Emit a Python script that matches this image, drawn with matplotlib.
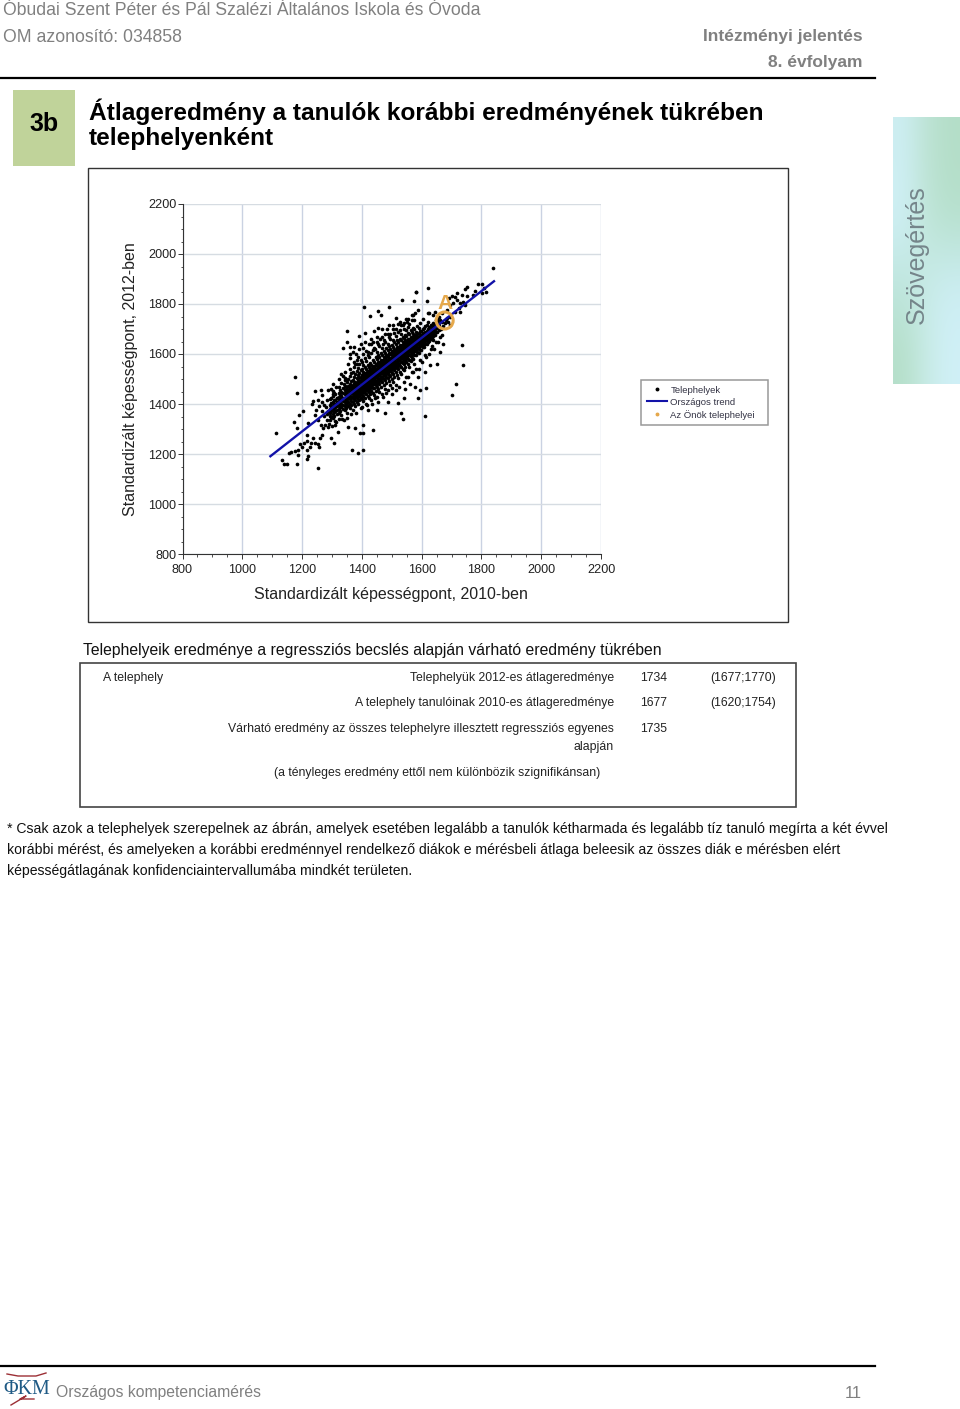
"""Atlageredmeny a tanulok korabbi eredmenyenek tukreben: report page with regression scatter."""

import matplotlib

matplotlib.use("Agg")
import matplotlib.pyplot as plt
import numpy as np
from matplotlib.colors import to_rgb
from matplotlib.lines import Line2D
from matplotlib.patches import Rectangle
from matplotlib.ticker import MultipleLocator

plt.rcParams["font.family"] = ["Liberation Sans", "DejaVu Sans"]

# axis
ticks = [800, 1000, 1200, 1400, 1600, 1800, 2000, 2200]
x_label = "Standardizált képességpont, 2010-ben"
y_label = "Standardizált képességpont, 2012-ben"

# national trend
trend_x = [1094, 1842]
trend_y = [1191, 1891]

# the school's site
site_x = [1677]
site_y = [1734]

# sites at the low end
lower_tail = [
    (1176, 1509), (1184, 1445), (1114, 1283), (1133, 1176), (1141, 1159), (1151, 1159), (1184, 1159),
    (1254, 1145), (1215, 1179), (1221, 1192), (1156, 1203), (1163, 1209), (1176, 1212), (1187, 1216),
    (1201, 1227), (1193, 1240), (1208, 1245), (1187, 1196), (1215, 1216), (1227, 1227), (1229, 1243),
    (1257, 1227), (1243, 1243), (1254, 1240), (1260, 1263), (1268, 1276), (1238, 1265), (1218, 1276),
    (1215, 1253), (1296, 1265), (1308, 1243), (1321, 1289), (1288, 1309), (1271, 1303), (1277, 1316),
    (1254, 1336), (1243, 1356), (1221, 1323), (1184, 1303), (1173, 1329), (1191, 1355), (1202, 1373),
    (1243, 1453), (1263, 1456), (1238, 1413), (1254, 1416), (1266, 1436), (1288, 1456), (1282, 1416),
    (1305, 1440), (1316, 1423), (1232, 1400), (1366, 1216), (1388, 1203), (1405, 1216), (1394, 1283),
    (1403, 1283), (1438, 1296), (1405, 1316), (1377, 1303), (1355, 1309), (1340, 1336), (1272, 1352),
    (1284, 1335), (1266, 1372), (1279, 1388), (1290, 1322), (1300, 1312), (1312, 1328), (1262, 1318),
    (1275, 1398), (1268, 1408), (1258, 1392), (1247, 1378), (1296, 1350), (1287, 1372), (1282, 1362),
]

# sites away from the band
outliers = [
    (1581, 1847), (1533, 1816), (1575, 1813), (1619, 1813), (1408, 1787), (1492, 1787), (1453, 1772),
    (1464, 1756), (1427, 1753), (1349, 1693), (1351, 1649), (1338, 1623), (1360, 1629), (1375, 1629),
    (1392, 1672), (1411, 1683), (1442, 1693), (1455, 1703), (1466, 1699), (1491, 1716), (1513, 1743),
    (1528, 1729), (1548, 1739), (1572, 1756), (1589, 1776), (1622, 1763), (1611, 1352), (1530, 1363),
    (1537, 1339), (1477, 1365), (1450, 1376), (1589, 1423), (1595, 1456), (1613, 1463), (1578, 1469),
    (1589, 1507), (1628, 1556), (1541, 1423), (1522, 1403), (1489, 1409), (1444, 1423), (1416, 1396),
    (1344, 1496), (1338, 1512), (1700, 1437), (1714, 1481), (1737, 1557), (1734, 1635), (1622, 1863),
    (1580, 1847), (1673, 1640), (1639, 1656), (1634, 1632), (1667, 1676), (1650, 1560), (1660, 1610),
]

# sites at the high end
upper_tail = [
    (1840, 1943), (1788, 1880), (1801, 1880), (1751, 1869), (1745, 1859), (1809, 1863), (1815, 1849),
    (1778, 1853), (1771, 1836), (1801, 1843), (1751, 1832), (1734, 1836), (1717, 1843), (1700, 1832),
    (1693, 1823), (1712, 1827), (1719, 1816), (1740, 1809), (1728, 1803), (1745, 1796), (1706, 1803),
    (1695, 1796), (1726, 1783), (1712, 1769), (1728, 1769), (1684, 1776), (1667, 1763), (1645, 1769),
    (1626, 1763), (1578, 1763), (1567, 1756), (1639, 1696), (1656, 1716), (1695, 1749), (1684, 1743),
    (1667, 1729), (1678, 1723), (1695, 1716), (1656, 1749), (1567, 1736), (1550, 1729), (1539, 1716),
    (1665, 1700), (1672, 1712), (1680, 1735), (1688, 1728), (1662, 1735), (1651, 1735),
]

# loose sites on both sides of the band
band_fringe = [
    (1345, 1530), (1355, 1560), (1362, 1585), (1370, 1610), (1380, 1600), (1385, 1560), (1392, 1620),
    (1398, 1640), (1405, 1625), (1412, 1650), (1420, 1610), (1425, 1640), (1430, 1660), (1438, 1650),
    (1445, 1620), (1452, 1670), (1460, 1660), (1470, 1640), (1478, 1680), (1485, 1700), (1495, 1680),
    (1505, 1715), (1515, 1700), (1520, 1720), (1540, 1725), (1555, 1740), (1360, 1600), (1375, 1570),
    (1340, 1480), (1325, 1500), (1315, 1470), (1305, 1480), (1298, 1460), (1330, 1520), (1400, 1390),
    (1420, 1375), (1435, 1400), (1455, 1410), (1470, 1430), (1480, 1445), (1500, 1440), (1515, 1455),
    (1525, 1470), (1540, 1490), (1555, 1510), (1570, 1530), (1580, 1540), (1600, 1570), (1615, 1590),
    (1625, 1600), (1640, 1620), (1655, 1650), (1660, 1670), (1380, 1365), (1365, 1360), (1350, 1345),
    (1335, 1340), (1325, 1340), (1310, 1315), (1590, 1540), (1560, 1480), (1545, 1460), (1500, 1465),
    (1610, 1530),
]

# dense band, per 2010 score
band_columns = [
    (1292, [1338, 1352, 1365, 1381, 1398, 1420]),
    (1303, [1345, 1361, 1378, 1394, 1410, 1433, 1452]),
    (1311, [1332, 1372, 1387, 1401, 1416, 1439]),
    (1322, [1366, 1381, 1395, 1412, 1427, 1445, 1468]),
    (1331, [1358, 1388, 1402, 1418, 1433, 1450, 1483]),
    (1342, [1375, 1392, 1410, 1425, 1439, 1456, 1472, 1505]),
    (1350, [1364, 1397, 1413, 1428, 1444, 1461, 1488]),
    (1361, [1385, 1402, 1419, 1433, 1448, 1463, 1479, 1514, 1540]),
    (1369, [1376, 1408, 1424, 1440, 1455, 1470, 1497, 1530]),
    (1378, [1391, 1415, 1430, 1446, 1460, 1475, 1490, 1520, 1562]),
    (1387, [1402, 1422, 1438, 1452, 1467, 1482, 1498, 1516, 1545, 1590]),
    (1396, [1385, 1425, 1441, 1458, 1473, 1488, 1503, 1535, 1578]),
    (1405, [1412, 1432, 1449, 1465, 1481, 1496, 1512, 1528, 1556, 1600]),
    (1414, [1400, 1440, 1456, 1472, 1489, 1504, 1520, 1540, 1572, 1612]),
    (1423, [1425, 1449, 1465, 1482, 1497, 1513, 1529, 1547, 1590]),
    (1432, [1415, 1452, 1470, 1488, 1505, 1521, 1536, 1558, 1605, 1640]),
    (1441, [1437, 1463, 1481, 1498, 1514, 1530, 1546, 1568, 1625]),
    (1450, [1428, 1470, 1488, 1507, 1523, 1538, 1555, 1580, 1610, 1650]),
    (1459, [1448, 1482, 1498, 1516, 1531, 1548, 1564, 1588, 1632]),
    (1468, [1440, 1487, 1506, 1523, 1540, 1556, 1573, 1598, 1625, 1668]),
    (1477, [1462, 1496, 1515, 1533, 1549, 1565, 1583, 1605, 1648]),
    (1486, [1455, 1505, 1524, 1541, 1557, 1574, 1592, 1615, 1640, 1680]),
    (1495, [1478, 1512, 1532, 1550, 1566, 1582, 1600, 1622, 1660]),
    (1504, [1490, 1522, 1541, 1558, 1574, 1591, 1608, 1630, 1655, 1700]),
    (1513, [1475, 1530, 1549, 1567, 1583, 1600, 1616, 1640, 1672]),
    (1522, [1505, 1540, 1558, 1576, 1591, 1608, 1625, 1648, 1690]),
    (1531, [1520, 1549, 1567, 1585, 1600, 1616, 1633, 1655, 1682, 1715]),
    (1540, [1535, 1560, 1578, 1593, 1608, 1625, 1642, 1664, 1702]),
    (1549, [1510, 1568, 1586, 1602, 1617, 1633, 1650, 1672, 1695]),
    (1558, [1548, 1578, 1595, 1611, 1625, 1641, 1658, 1680, 1722]),
    (1567, [1528, 1586, 1603, 1620, 1634, 1649, 1666, 1690]),
    (1576, [1560, 1596, 1612, 1628, 1642, 1657, 1674, 1700, 1735]),
    (1585, [1608, 1622, 1637, 1651, 1665, 1682, 1712]),
    (1594, [1578, 1618, 1632, 1646, 1660, 1674, 1692, 1725]),
    (1603, [1630, 1642, 1655, 1668, 1682, 1702, 1742]),
    (1612, [1598, 1640, 1652, 1664, 1677, 1690, 1714]),
    (1621, [1650, 1662, 1674, 1686, 1700, 1728]),
    (1630, [1620, 1662, 1674, 1686, 1698, 1715]),
    (1639, [1672, 1684, 1708, 1725, 1755]),
    (1648, [1650, 1690, 1704, 1716, 1738]),
    (1657, [1695, 1712, 1726, 1750]),
]

# more of the band, between those columns
band_between = [
    (1297, [1350, 1372, 1388, 1405, 1426]),
    (1307, [1352, 1369, 1384, 1400, 1418, 1444]),
    (1316, [1360, 1378, 1393, 1408, 1424]),
    (1326, [1372, 1388, 1404, 1419, 1436, 1458]),
    (1336, [1380, 1396, 1411, 1426, 1443, 1466]),
    (1346, [1385, 1402, 1418, 1433, 1449, 1467, 1495]),
    (1355, [1392, 1408, 1425, 1440, 1455, 1472, 1500]),
    (1365, [1395, 1412, 1430, 1444, 1459, 1474, 1492, 1525]),
    (1374, [1402, 1420, 1436, 1450, 1466, 1483, 1508, 1548]),
    (1383, [1410, 1427, 1443, 1458, 1473, 1486, 1506, 1532, 1575]),
    (1392, [1416, 1433, 1447, 1463, 1478, 1493, 1510, 1526, 1560]),
    (1401, [1420, 1438, 1454, 1470, 1485, 1500, 1518, 1542, 1568]),
    (1410, [1425, 1444, 1460, 1476, 1493, 1508, 1524, 1548, 1586]),
    (1419, [1432, 1452, 1468, 1485, 1501, 1516, 1534, 1556, 1598]),
    (1428, [1440, 1458, 1475, 1492, 1509, 1524, 1541, 1566]),
    (1437, [1445, 1466, 1484, 1502, 1518, 1534, 1552, 1578, 1618]),
    (1446, [1452, 1475, 1493, 1511, 1527, 1542, 1560, 1590]),
    (1455, [1460, 1484, 1502, 1519, 1536, 1551, 1569, 1596, 1640]),
    (1464, [1468, 1492, 1510, 1528, 1544, 1560, 1578, 1606]),
    (1473, [1475, 1500, 1519, 1537, 1553, 1569, 1588, 1614, 1655]),
    (1482, [1484, 1510, 1528, 1546, 1561, 1578, 1597, 1624]),
    (1491, [1492, 1518, 1536, 1553, 1570, 1586, 1605, 1632, 1670]),
    (1500, [1500, 1526, 1545, 1562, 1579, 1595, 1612, 1638]),
    (1509, [1510, 1535, 1553, 1571, 1588, 1604, 1622, 1648, 1685]),
    (1518, [1518, 1544, 1562, 1580, 1596, 1612, 1630, 1656]),
    (1527, [1528, 1552, 1571, 1588, 1604, 1620, 1638, 1662, 1695]),
    (1536, [1542, 1565, 1582, 1598, 1612, 1629, 1647, 1670]),
    (1545, [1550, 1572, 1590, 1606, 1621, 1637, 1655, 1678]),
    (1554, [1560, 1582, 1599, 1615, 1629, 1645, 1662, 1685, 1708]),
    (1563, [1572, 1591, 1607, 1624, 1638, 1653, 1670, 1695]),
    (1572, [1582, 1600, 1616, 1632, 1646, 1661, 1680, 1706]),
    (1581, [1595, 1614, 1629, 1643, 1656, 1672, 1690]),
    (1590, [1605, 1625, 1640, 1653, 1668, 1684, 1705]),
    (1599, [1618, 1636, 1650, 1662, 1676, 1694]),
    (1608, [1630, 1646, 1660, 1672, 1685, 1706]),
    (1617, [1642, 1656, 1668, 1680, 1694, 1715]),
    (1626, [1652, 1668, 1680, 1692, 1708]),
    (1635, [1664, 1678, 1690, 1702, 1718]),
    (1644, [1678, 1694, 1708, 1722]),
    (1653, [1690, 1704, 1718, 1735]),
]

# the solid middle of the band
band_core = [
    (1372, [1430, 1447, 1462, 1478]),
    (1381, [1437, 1452, 1468, 1484]),
    (1390, [1443, 1460, 1475, 1492]),
    (1399, [1450, 1466, 1482, 1498, 1515]),
    (1408, [1456, 1473, 1490, 1506, 1522]),
    (1417, [1464, 1480, 1497, 1514, 1530]),
    (1426, [1472, 1489, 1505, 1521, 1538]),
    (1435, [1478, 1496, 1513, 1529, 1546]),
    (1444, [1486, 1504, 1521, 1537, 1554]),
    (1453, [1494, 1511, 1529, 1545, 1562]),
    (1462, [1502, 1520, 1537, 1553, 1570]),
    (1471, [1511, 1528, 1545, 1561, 1578]),
    (1480, [1519, 1536, 1553, 1570, 1587]),
    (1489, [1527, 1545, 1562, 1578, 1595]),
    (1498, [1536, 1553, 1570, 1586, 1603]),
    (1507, [1544, 1562, 1579, 1595, 1612]),
    (1516, [1553, 1570, 1587, 1603, 1620]),
    (1525, [1561, 1578, 1595, 1612, 1628]),
    (1534, [1570, 1587, 1604, 1620, 1637]),
    (1543, [1580, 1596, 1612, 1628, 1645]),
    (1552, [1588, 1604, 1620, 1636, 1653]),
    (1561, [1597, 1613, 1629, 1645, 1661]),
    (1570, [1606, 1622, 1637, 1653, 1669]),
    (1579, [1615, 1631, 1646, 1661, 1677]),
    (1588, [1625, 1640, 1655, 1670]),
    (1597, [1635, 1649, 1663, 1678]),
    (1606, [1645, 1658, 1671, 1686]),
    (1615, [1655, 1668, 1682]),
    (1624, [1665, 1678, 1692]),
    (1633, [1676, 1690, 1704]),
]

# table under the chart
table_labels = [
    "Telephelyük 2012-es átlageredménye",
    "A telephely tanulóinak 2010-es átlageredménye",
    "Várható eredmény az összes telephelyre illesztett regressziós egyenes",
    "alapján",
]
table_values = ["1734", "1677", "1735"]
table_intervals = ["(1677;1770)", "(1620;1754)"]
notes = [
    "* Csak azok a telephelyek szerepelnek az ábrán, amelyek esetében legalább a tanulók kétharmada és legalább tíz tanuló megírta a két évvel",
    "korábbi mérést, és amelyeken a korábbi eredménnyel rendelkező diákok e mérésbeli átlaga beleesik az összes diák e mérésben elért",
    "képességátlagának konfidenciaintervallumába mindkét területen.",
]

GRAY = "#808080"
ORANGE = "#E5A84B"
DARK = "#222222"


def px(size):
    return size * 0.72


fig = plt.figure(figsize=(9.6, 14.09), dpi=100, facecolor="white")

# page furniture in pixel coordinates
page = fig.add_axes([0, 0, 1, 1])
page.axis("off")

page.plot([0, 875], [78, 78], color="black", lw=1.6)
page.plot([0, 875], [1366, 1366], color="black", lw=1.6)
page.add_patch(Rectangle((13, 90), 62, 76, fc="#C0D39A", ec="none"))
page.add_patch(Rectangle((88, 168), 700, 454, fc="white", ec="#333333", lw=1))
page.add_patch(Rectangle((80, 663), 716, 144, fc="white", ec="#444444", lw=1.2))

# side tab gradient
tab_colors = [
    ["#cdeef2", "#bde3d4", "#b4dec8"],
    ["#d0f0f6", "#bfe5d8", "#b6e0cc"],
    ["#bfe6de", "#c8ebe8", "#cdeef4"],
    ["#b5dfc9", "#c8ebe6", "#d0f0f7"],
]
tab = np.array([[to_rgb(c) for c in row] for row in tab_colors])
page.imshow(tab, extent=(893, 960, 384, 117), interpolation="bicubic", aspect="auto", zorder=1)
page.set_xlim(0, 960)
page.set_ylim(1409, 0)
page.text(917, 255, "Szövegértés", rotation=90, ha="center", va="center", fontsize=px(25), color="#75858A", zorder=2)

page.text(3, 10.5, "Óbudai Szent Péter és Pál Szalézi Általános Iskola és Óvoda", va="center", fontsize=px(17.6), color=GRAY)
page.text(3, 38, "OM azonosító: 034858", va="center", fontsize=px(17.6), color=GRAY)
page.text(863, 37, "Intézményi jelentés", ha="right", va="center", fontsize=px(17.4), color=GRAY, fontweight="bold")
page.text(863, 63, "8. évfolyam", ha="right", va="center", fontsize=px(17.4), color=GRAY, fontweight="bold")
page.text(44, 124, "3b", ha="center", va="center", fontsize=px(25), color="black", fontweight="bold")
page.text(89, 112, "Átlageredmény a tanulók korábbi eredményének tükrében", va="center", fontsize=px(24.5), color="black", fontweight="bold")
page.text(89, 139, "telephelyenként", va="center", fontsize=px(24.5), color="black", fontweight="bold")

page.text(130, 379, y_label, rotation=90, ha="center", va="center", fontsize=px(16), color=DARK)
page.text(391, 595, x_label, ha="center", va="center", fontsize=px(16), color=DARK)

page.text(83, 650, "Telephelyeik eredménye a regressziós becslés alapján várható eredmény tükrében", va="center", fontsize=px(15.8), color="#111111")
page.text(103, 678, "A telephely", va="center", fontsize=px(12.2), color=DARK)
for label, y in zip(table_labels, [678, 703, 729, 747]):
    page.text(614, y, label, ha="right", va="center", fontsize=px(12.2), color=DARK)
page.text(600, 773, "(a tényleges eredmény ettől nem különbözik szignifikánsan)", ha="right", va="center", fontsize=px(12.2), color=DARK)
for value, y in zip(table_values, [678, 703, 729]):
    page.text(640, y, value, va="center", fontsize=px(12.2), color=DARK)
for interval, y in zip(table_intervals, [678, 703]):
    page.text(710, y, interval, va="center", fontsize=px(12.2), color=DARK)
for note, y in zip(notes, [829, 850, 871]):
    page.text(7, y, note, va="center", fontsize=px(13.96), color="#111111")

# footer with logo
page.text(56, 1393, "Országos kompetenciamérés", va="center", fontsize=px(15.7), color=GRAY)
page.text(862, 1393, "11", ha="right", va="center", fontsize=px(16.5), color=GRAY)
page.text(27, 1389, "ΦKM", ha="center", va="center", fontsize=px(20), color="#1F5A85", family=["Liberation Serif", "DejaVu Serif"])
page.plot([7, 18, 36, 46], [1374, 1376, 1376, 1373], color="#9C2F35", lw=1)
page.plot([11, 26, 20, 34], [1405, 1396, 1399, 1399], color="#9C2F35", lw=1)

# scatter
ax = fig.add_axes([182.5 / 960, 1 - 554 / 1409, 418.5 / 960, 350 / 1409])
ax.patch.set_alpha(0)
ax.set_xlim(800, 2200)
ax.set_ylim(800, 2200)

columns = band_columns + band_between + band_core
band_x = [x for x, ys in columns for _ in ys]
band_y = [y for _, ys in columns for y in ys]
other = np.array(lower_tail + outliers + upper_tail + band_fringe)

ax.scatter(band_x, band_y, s=7, c="black", linewidths=0, zorder=3)
ax.scatter(other[:, 0], other[:, 1], s=7, c="black", linewidths=0, zorder=3)
ax.plot(trend_x, trend_y, color="#1212A8", lw=1.7, zorder=4)
ax.scatter(site_x, site_y, s=150, facecolors="none", edgecolors=ORANGE, linewidths=2.2, zorder=5, clip_on=False)
ax.annotate("A", (site_x[0], site_y[0]), xytext=(0, 12), textcoords="offset points", ha="center", va="center",
            fontsize=px(21), color=ORANGE, fontweight="bold", zorder=5)

ax.set_xticks(ticks)
ax.set_yticks(ticks)
ax.xaxis.set_minor_locator(MultipleLocator(50))
ax.yaxis.set_minor_locator(MultipleLocator(50))
ax.grid(True, which="major", axis="y", color="#D6DCE2", lw=1, zorder=0)
ax.grid(True, which="major", axis="x", color="#CAD2E2", lw=1, zorder=0)
ax.set_axisbelow(True)
ax.tick_params(which="major", length=3.5, width=0.7, color="#333333", labelsize=px(12.6), labelcolor=DARK)
ax.tick_params(axis="x", which="major", pad=4)
ax.tick_params(axis="y", which="major", pad=1)
ax.tick_params(which="minor", length=1.8, width=0.6, color="#333333")
for side in ["top", "right"]:
    ax.spines[side].set_visible(False)
for side in ["left", "bottom"]:
    ax.spines[side].set_linewidth(0.8)
    ax.spines[side].set_color("#333333")

handles = [
    Line2D([], [], marker="o", ls="none", color="black", ms=1.8, label="Telephelyek"),
    Line2D([], [], color="#1212A8", lw=1.5, label="Országos trend"),
    Line2D([], [], marker="o", ls="none", color=ORANGE, ms=1.8, label="Az Önök telephelyei"),
]
leg = fig.legend(handles=handles, loc="upper left", bbox_to_anchor=(641 / 960, 1 - 424 / 1409, 127 / 960, 44 / 1409),
                 mode="expand", borderaxespad=0, fontsize=px(9.5), frameon=True, fancybox=False, edgecolor="#999999",
                 framealpha=1, labelspacing=0.32, handlelength=2.1, handletextpad=0.4, borderpad=0.6, labelcolor="#333344")
leg.get_frame().set_linewidth(1.1)

fig.savefig("out.png", dpi=100)
